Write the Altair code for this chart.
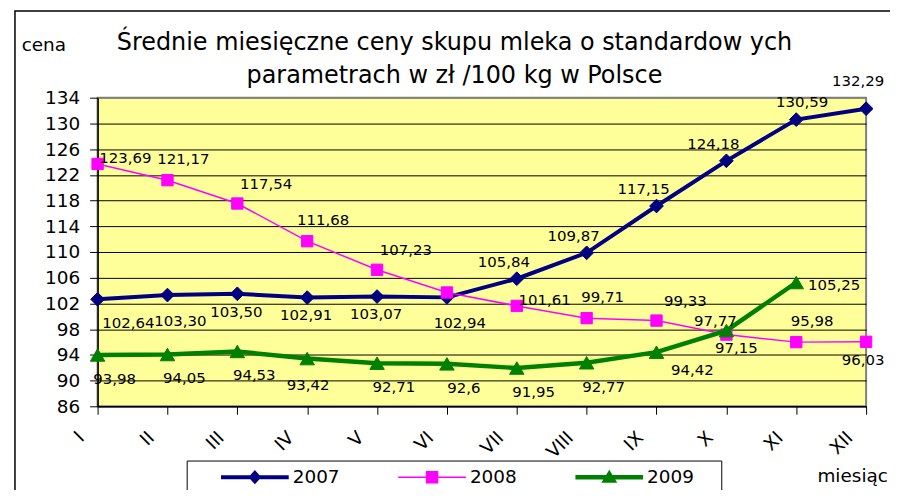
import altair as alt
import pandas as pd

# ---------------- data ----------------
months = ["I", "II", "III", "IV", "V", "VI", "VII", "VIII", "IX", "X", "XI", "XII"]
series_names = ["2007", "2008", "2009"]

v2007 = [102.64, 103.30, 103.50, 102.91, 103.07, 102.94, 105.84, 109.87, 117.15, 124.18, 130.59, 132.29]
v2008 = [123.69, 121.17, 117.54, 111.68, 107.23, 103.7, 101.61, 99.71, 99.33, 97.15, 95.98, 96.03]
v2009 = [93.98, 94.05, 94.53, 93.42, 92.71, 92.6, 91.95, 92.77, 94.42, 97.77, 105.25, None]

l2007 = ["102,64", "103,30", "103,50", "102,91", "103,07", "102,94", "105,84", "109,87", "117,15", "124,18", "130,59", "132,29"]
l2008 = ["123,69", "121,17", "117,54", "111,68", "107,23", None, "101,61", "99,71", "99,33", "97,15", "95,98", "96,03"]
l2009 = ["93,98", "94,05", "94,53", "93,42", "92,71", "92,6", "91,95", "92,77", "94,42", "97,77", "105,25", None]

y_ticks = [86, 90, 94, 98, 102, 106, 110, 114, 118, 122, 126, 130, 134]
title_lines = ["Średnie miesięczne ceny skupu mleka o standardow ych",
               "parametrach w zł /100 kg w Polsce"]
y_title = "cena"
x_title = "miesiąc"

rows = []
for s, vals, labs in zip(series_names, [v2007, v2008, v2009], [l2007, l2008, l2009]):
    for m, v, l in zip(months, vals, labs):
        rows.append({"month": m, "series": s, "value": v, "label": l})
df = pd.DataFrame(rows)

# ---------------- styles ----------------
FONT = "DejaVu Sans"
colors = {"2007": "#000080", "2008": "#FF00FF", "2009": "#008000"}
widths = {"2007": 4, "2008": 1.5, "2009": 4.5}
shapes = {"2007": "diamond", "2008": "square", "2009": "triangle-up"}
sizes = {"2007": 190, "2008": 130, "2009": 210}

# legend glyphs: line segment + marker, filled only (unit box scaled by 34 px)
legend_paths = [
    "M-1,-0.06H1V0.06H-1ZM0,-0.21L0.19,0L0,0.21L-0.19,0Z",
    "M-1,-0.022H1V0.022H-1ZM-0.184,-0.184H0.184V0.184H-0.184Z",
    "M-1,-0.066H1V0.066H-1ZM0,-0.22L0.235,0.16H-0.235Z",
]

# label placement groups: (series, months, dx, dy)
label_specs = [
    ("2007", ["I"], 31, 24),
    ("2007", ["II", "VI"], 13, 26),
    ("2007", ["III", "IV", "V"], -1, 18),
    ("2007", ["VII", "VIII", "IX", "X"], -13, -17),
    ("2007", ["XI"], 6, -18),
    ("2007", ["XII"], -8, -28),
    ("2008", ["I", "VII"], 28, -6),
    ("2008", ["II", "IV", "VIII", "XI"], 16, -21),
    ("2008", ["III", "V", "IX"], 29, -20),
    ("2008", ["X"], 10, 13),
    ("2008", ["XII"], -3, 18),
    ("2009", ["I", "II", "III", "V", "VI", "VII", "VIII"], 17, 24),
    ("2009", ["IV"], 1, 27),
    ("2009", ["IX"], 36, 18),
    ("2009", ["X"], -11, -10),
    ("2009", ["XI"], 38, 3),
]

x_enc = alt.X(
    "month:N",
    sort=months,
    scale=alt.Scale(type="point", domain=months, padding=0),
    axis=alt.Axis(
        title=x_title,
        titleX=758, titleY=76, titleAlign="center", titleBaseline="alphabetic",
        titleAnchor="start", titleAngle=0,
        titleFont=FONT, titleFontSize=18.5, titleFontWeight="normal", titleColor="black",
        labelAngle=315, labelAlign="right", labelBaseline="middle",
        labelOffset=-17, labelPadding=20,
        labelFont=FONT, labelFontSize=18.5, labelColor="black",
        tickSize=8, tickColor="black", domainColor="black", domainWidth=1.5,
        grid=False,
    ),
)
y_enc = alt.Y(
    "value:Q",
    scale=alt.Scale(domain=[86, 134], nice=False, zero=False),
    axis=alt.Axis(
        title=None,
        values=y_ticks, format="d",
        labelFont=FONT, labelFontSize=18.5, labelColor="black", labelPadding=10,
        tickSize=8, tickColor="black", domainColor="black", domainWidth=1.5,
        grid=True, gridWidth=1,
        gridColor={"condition": {"test": "datum.value === 134", "value": "#808080"}, "value": "black"},
    ),
)

base = alt.Chart(df)

layers = []

# outer frame and legend box (decoration)
one = pd.DataFrame({"k": [0]})
layers.append(
    alt.Chart(one).mark_rect(fill="transparent", stroke="black", strokeWidth=1.5).encode(
        x=alt.value(-83), x2=alt.value(820), y=alt.value(-87), y2=alt.value(420)
    )
)
layers.append(
    alt.Chart(one).mark_rect(fill="white", stroke="black", strokeWidth=1).encode(
        x=alt.value(90), x2=alt.value(627), y=alt.value(365), y2=alt.value(395)
    )
)

for s in series_names:
    sub = base.transform_filter(alt.datum.series == s).transform_filter("isValid(datum.value)")
    layers.append(
        sub.mark_line(color=colors[s], strokeWidth=widths[s]).encode(x=x_enc, y=y_enc)
    )
    layers.append(
        sub.mark_point(filled=True, shape=shapes[s], size=sizes[s], color=colors[s],
                       stroke=colors[s], strokeWidth=1, opacity=1).encode(x=x_enc, y=y_enc)
    )

for s, ms, dx, dy in label_specs:
    layers.append(
        base.transform_filter(alt.datum.series == s)
        .transform_filter(alt.FieldOneOfPredicate(field="month", oneOf=ms))
        .mark_text(dx=dx, dy=dy, align="center", baseline="middle", font=FONT,
                   fontSize=15, color="black")
        .encode(x=x_enc, y=y_enc, text="label:N")
    )

# legend (drawn from scale domain only)
leg = alt.Legend(
    orient="none", legendX=124, legendY=347, direction="horizontal", columns=3,
    title=None, labelFont=FONT, labelFontSize=18.5, labelColor="black",
    symbolSize=4624, labelOffset=4, columnPadding=58, padding=0,
    symbolOpacity=1, symbolStrokeWidth=0, gridAlign="all",
)
dom = series_names
layers.append(
    base.transform_filter("false")
    .mark_point(filled=True, opacity=1, strokeWidth=0)
    .encode(
        x=x_enc, y=y_enc,
        fill=alt.Fill("series:N", scale=alt.Scale(domain=dom, range=[colors[s] for s in dom]), legend=leg),
        shape=alt.Shape("series:N", scale=alt.Scale(domain=dom, range=legend_paths), legend=leg),
    )
)

# title lines and y title as text
def label_text(txt, x, y, size, align="center"):
    return alt.Chart(pd.DataFrame({"t": [txt]})).mark_text(
        align=align, baseline="alphabetic", font=FONT, fontSize=size, color="black"
    ).encode(x=alt.value(x), y=alt.value(y), text="t:N")

layers.append(label_text(title_lines[0], 358.5, -48, 24))
layers.append(label_text(title_lines[1], 358.5, -15, 24))
layers.append(label_text(y_title, -54, -47, 18.5))

chart = alt.layer(*layers).properties(
    width=772, height=310,
    padding={"left": 90, "top": 89, "right": 24, "bottom": 83},
    autosize=alt.AutoSizeParams(type="none"),
    background="white",
).configure_view(fill="#FFFF99", stroke="#808080", strokeWidth=2)

chart.save("out.html", embed_options={"renderer": "svg", "actions": False})
